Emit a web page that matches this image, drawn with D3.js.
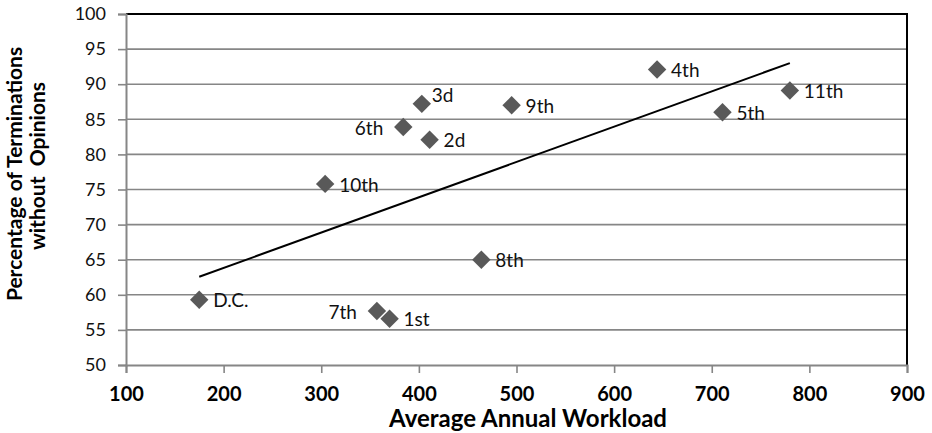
<!DOCTYPE html>
<html>
<head>
<meta charset="utf-8">
<script src="https://cdn.jsdelivr.net/npm/d3@7"></script>
<style>
  html, body { margin: 0; padding: 0; background: #fff; }
  svg { display: block; font-family: Lato, "Open Sans", sans-serif; }
</style>
</head>
<body>
<svg id="chart" width="932" height="433"></svg>
<script>
// ---- data ----
const courts   = ["D.C.", "1st", "2d", "3d", "4th", "5th", "6th", "7th", "8th", "9th", "10th", "11th"];
const workload = [175, 370, 411, 403, 644, 711, 384, 357, 464, 495, 304, 780];
const pctNoOpinion = [59.3, 56.6, 82.1, 87.2, 92.1, 86.0, 83.9, 57.7, 65.0, 87.0, 75.8, 89.1];
const xTicks = [100, 200, 300, 400, 500, 600, 700, 800, 900];
const yTicks = [50, 55, 60, 65, 70, 75, 80, 85, 90, 95, 100];
const xTitle = "Average Annual Workload";
const yTitleLines = ["Percentage of Terminations", "without  Opinions"];
// label placement (style): default is right of marker
const labelSide = { "6th": "left", "7th": "left", "3d": "above" };

// ---- layout ----
const L = 126, R = 907, T = 14, B = 365;
const svg = d3.select("#chart");
const x = d3.scaleLinear().domain([100, 900]).range([L, R]);
const y = d3.scaleLinear().domain([50, 100]).range([B, T]);
const gridColor = "#868686";

// gridlines
svg.append("g").selectAll("line")
  .data(yTicks.filter(v => v > 50 && v < 100))
  .join("line")
  .attr("x1", L).attr("x2", R)
  .attr("y1", d => y(d)).attr("y2", d => y(d))
  .attr("stroke", gridColor).attr("stroke-width", 1.6);

// top and right border (black)
svg.append("line").attr("x1", L).attr("x2", R + 1).attr("y1", y(100)).attr("y2", y(100))
  .attr("stroke", "#000").attr("stroke-width", 2);
svg.append("line").attr("x1", R).attr("x2", R).attr("y1", T).attr("y2", B)
  .attr("stroke", "#000").attr("stroke-width", 2);

// y axis
const yAxis = svg.append("g").attr("transform", `translate(${L},0)`)
  .call(d3.axisLeft(y).tickValues(yTicks).tickSize(8).tickPadding(12).tickFormat(d3.format("d")));
yAxis.select(".domain").attr("stroke", gridColor).attr("stroke-width", 2);
yAxis.selectAll(".tick line").attr("stroke", gridColor).attr("stroke-width", 1.6);
yAxis.selectAll(".tick text").attr("font-size", 18).attr("fill", "#111")
  .attr("font-family", "Lato, sans-serif");

// x axis
const xAxis = svg.append("g").attr("transform", `translate(0,${B})`)
  .call(d3.axisBottom(x).tickValues(xTicks).tickSize(8).tickPadding(14).tickFormat(d3.format("d")));
xAxis.select(".domain").attr("stroke", gridColor).attr("stroke-width", 2);
xAxis.selectAll(".tick line").attr("stroke", gridColor).attr("stroke-width", 1.6);
xAxis.selectAll(".tick text").attr("font-size", 20).attr("font-weight", "bold").attr("fill", "#000")
  .attr("font-family", "Lato, sans-serif");

// trend line (least squares fit of the data)
const n = workload.length;
const mx = d3.mean(workload), my = d3.mean(pctNoOpinion);
let sxy = 0, sxx = 0;
for (let i = 0; i < n; i++) {
  sxy += (workload[i] - mx) * (pctNoOpinion[i] - my);
  sxx += (workload[i] - mx) ** 2;
}
const slope = sxy / sxx, icpt = my - slope * mx;
const xExt = d3.extent(workload);
svg.append("path")
  .datum(xExt.map(v => [v, icpt + slope * v]))
  .attr("d", d3.line().x(d => x(d[0])).y(d => y(d[1])))
  .attr("fill", "none").attr("stroke", "#000").attr("stroke-width", 2);

// points
const pts = courts.map((c, i) => ({ c, w: workload[i], p: pctNoOpinion[i] }));
svg.append("g").selectAll("path")
  .data(pts).join("path")
  .attr("d", d3.symbol(d3.symbolSquare, 170))
  .attr("transform", d => `translate(${x(d.w)},${y(d.p)}) rotate(45)`)
  .attr("fill", "#595959");

// labels
svg.append("g").selectAll("text")
  .data(pts).join("text")
  .attr("x", d => {
    const s = labelSide[d.c];
    if (s === "left") return x(d.w) - 20;
    if (s === "above") return x(d.w) + 10;
    return x(d.w) + 14;
  })
  .attr("y", d => labelSide[d.c] === "above" ? y(d.p) - 9 : y(d.p) + 1)
  .attr("dy", "0.35em")
  .attr("text-anchor", d => labelSide[d.c] === "left" ? "end" : "start")
  .attr("font-size", 19).attr("fill", "#111")
  .text(d => d.c);

// axis titles
svg.append("text").attr("x", 528).attr("y", 427)
  .attr("text-anchor", "middle").attr("font-size", 24).attr("font-weight", "bold")
  .text(xTitle);
const yt = svg.append("g");
yt.append("text").attr("transform", "translate(22,174) rotate(-90)")
  .attr("text-anchor", "middle").attr("font-size", 21).attr("font-weight", "bold")
  .text(yTitleLines[0]);
yt.append("text").attr("transform", "translate(45,166) rotate(-90)")
  .attr("text-anchor", "middle").attr("font-size", 21).attr("font-weight", "bold")
  .attr("xml:space", "preserve").style("white-space", "pre")
  .text(yTitleLines[1]);
</script>
</body>
</html>
